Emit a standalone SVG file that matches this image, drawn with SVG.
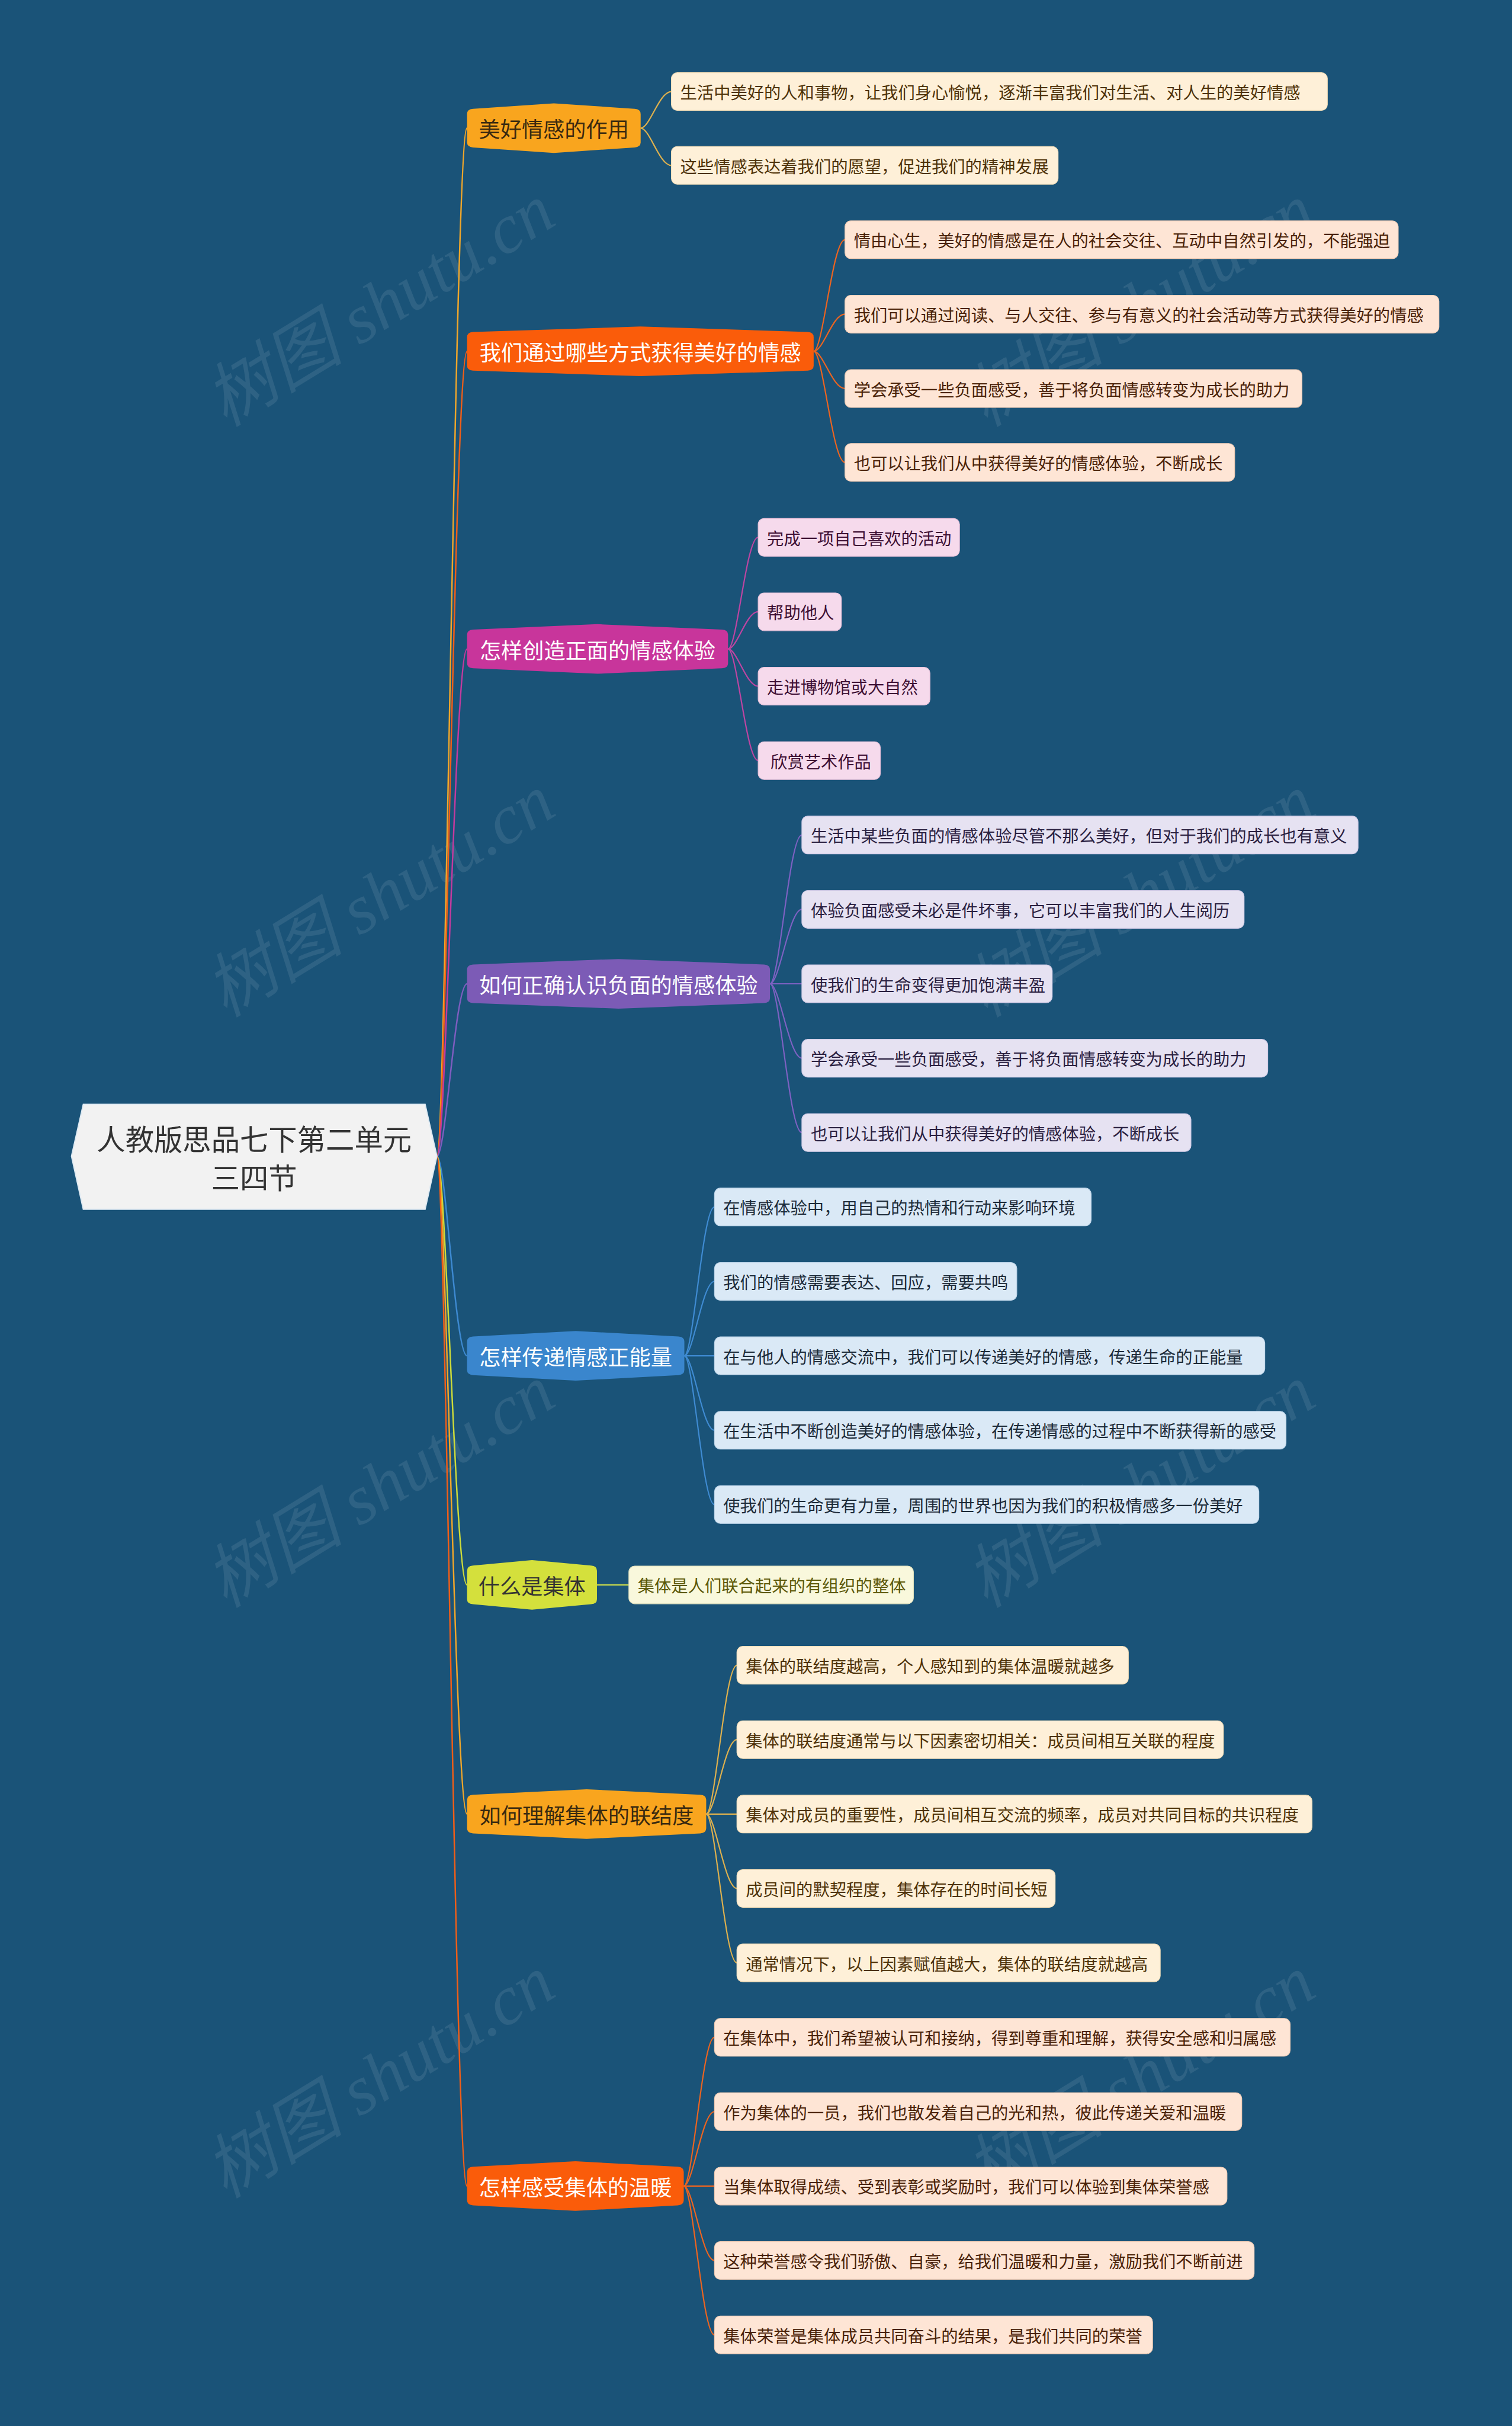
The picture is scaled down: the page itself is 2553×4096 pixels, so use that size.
<svg xmlns="http://www.w3.org/2000/svg" width="2553" height="4096" viewBox="0 0 2553 4096">
<style>
.wm{font-family:"Liberation Serif","Noto Sans CJK SC",serif;font-style:italic;font-size:118px;fill:#ffffff;fill-opacity:0.09}
.t1{font-family:"Noto Sans CJK SC","Noto Sans",sans-serif;font-size:36.3px;dominant-baseline:central;text-anchor:middle}
.t2{font-family:"Noto Sans CJK SC","Noto Sans",sans-serif;font-size:28.4px;dominant-baseline:central}
.rt{font-family:"Noto Sans CJK SC","Noto Sans",sans-serif;font-size:48.5px;dominant-baseline:central;text-anchor:middle;fill:#333333}
.lf{stroke-width:1.2}
.c0{fill:none;stroke-width:2.5}
.c1{fill:none;stroke-width:2.2}
</style>
<rect x="0" y="0" width="2553" height="4096" fill="#1A5378"/>
<g transform="scale(0.997)">
<g id="watermarks">
<text class="wm" transform="translate(643 517) rotate(-31.5)" text-anchor="middle" dominant-baseline="central">树图 shutu.cn</text>
<text class="wm" transform="translate(1931 517) rotate(-31.5)" text-anchor="middle" dominant-baseline="central">树图 shutu.cn</text>
<text class="wm" transform="translate(643 1517) rotate(-31.5)" text-anchor="middle" dominant-baseline="central">树图 shutu.cn</text>
<text class="wm" transform="translate(1931 1517) rotate(-31.5)" text-anchor="middle" dominant-baseline="central">树图 shutu.cn</text>
<text class="wm" transform="translate(643 2517) rotate(-31.5)" text-anchor="middle" dominant-baseline="central">树图 shutu.cn</text>
<text class="wm" transform="translate(1931 2517) rotate(-31.5)" text-anchor="middle" dominant-baseline="central">树图 shutu.cn</text>
<text class="wm" transform="translate(643 3517) rotate(-31.5)" text-anchor="middle" dominant-baseline="central">树图 shutu.cn</text>
<text class="wm" transform="translate(1931 3517) rotate(-31.5)" text-anchor="middle" dominant-baseline="central">树图 shutu.cn</text>
</g>
<g id="connectors">
<path class="c0" stroke="#F0A62A" d="M740 1958 C755.3 1958 770.6 217 791 217"/>
<path class="c0" stroke="#F05E18" d="M740 1958 C755.3 1958 770.6 595 791 595"/>
<path class="c0" stroke="#C23B9E" d="M740 1958 C755.3 1958 770.6 1099 791 1099"/>
<path class="c0" stroke="#7E5DBF" d="M740 1958 C755.3 1958 770.6 1666 791 1666"/>
<path class="c0" stroke="#3D89D0" d="M740 1958 C755.3 1958 770.6 2296 791 2296"/>
<path class="c0" stroke="#CCDA3A" d="M740 1958 C755.3 1958 770.6 2684 791 2684"/>
<path class="c0" stroke="#F0A62A" d="M740 1958 C755.3 1958 770.6 3072 791 3072"/>
<path class="c0" stroke="#F05E18" d="M740 1958 C755.3 1958 770.6 3702 791 3702"/>
<g stroke="#DDB04E">
<path class="c1" d="M1085 217 C1100.6 217 1116.2 155 1137 155"/>
<path class="c1" d="M1085 217 C1100.6 217 1116.2 280 1137 280"/>
</g>
<g stroke="#EC6420">
<path class="c1" d="M1378 595 C1393.9 595 1409.8 406 1431 406"/>
<path class="c1" d="M1378 595 C1393.9 595 1409.8 532 1431 532"/>
<path class="c1" d="M1378 595 C1393.9 595 1409.8 658 1431 658"/>
<path class="c1" d="M1378 595 C1393.9 595 1409.8 783 1431 783"/>
</g>
<g stroke="#BE45A2">
<path class="c1" d="M1233 1099 C1248.3 1099 1263.6 910 1284 910"/>
<path class="c1" d="M1233 1099 C1248.3 1099 1263.6 1036 1284 1036"/>
<path class="c1" d="M1233 1099 C1248.3 1099 1263.6 1162 1284 1162"/>
<path class="c1" d="M1233 1099 C1248.3 1099 1263.6 1288 1284 1288"/>
</g>
<g stroke="#7D61C2">
<path class="c1" d="M1304 1666 C1320.2 1666 1336.4 1414 1358 1414"/>
<path class="c1" d="M1304 1666 C1320.2 1666 1336.4 1540 1358 1540"/>
<path class="c1" d="M1304 1666 L1358 1666"/>
<path class="c1" d="M1304 1666 C1320.2 1666 1336.4 1792 1358 1792"/>
<path class="c1" d="M1304 1666 C1320.2 1666 1336.4 1918 1358 1918"/>
</g>
<g stroke="#3F8BD2">
<path class="c1" d="M1159 2296 C1174.3 2296 1189.6 2044 1210 2044"/>
<path class="c1" d="M1159 2296 C1174.3 2296 1189.6 2170 1210 2170"/>
<path class="c1" d="M1159 2296 L1210 2296"/>
<path class="c1" d="M1159 2296 C1174.3 2296 1189.6 2422 1210 2422"/>
<path class="c1" d="M1159 2296 C1174.3 2296 1189.6 2548 1210 2548"/>
</g>
<g stroke="#C9DA4C">
<path class="c1" d="M1011 2684 L1065 2684"/>
</g>
<g stroke="#DDB04E">
<path class="c1" d="M1196 3072 C1211.6 3072 1227.2 2820 1248 2820"/>
<path class="c1" d="M1196 3072 C1211.6 3072 1227.2 2946 1248 2946"/>
<path class="c1" d="M1196 3072 L1248 3072"/>
<path class="c1" d="M1196 3072 C1211.6 3072 1227.2 3198 1248 3198"/>
<path class="c1" d="M1196 3072 C1211.6 3072 1227.2 3324 1248 3324"/>
</g>
<g stroke="#EC6420">
<path class="c1" d="M1158 3702 C1173.6 3702 1189.2 3450 1210 3450"/>
<path class="c1" d="M1158 3702 C1173.6 3702 1189.2 3576 1210 3576"/>
<path class="c1" d="M1158 3702 L1210 3702"/>
<path class="c1" d="M1158 3702 C1173.6 3702 1189.2 3828 1210 3828"/>
<path class="c1" d="M1158 3702 C1173.6 3702 1189.2 3954 1210 3954"/>
</g>
</g>
<g id="root">
<polygon points="121,1958 141,1870 720,1870 740,1958 720,2048 141,2048" fill="#F2F2F2" stroke="#DDE9F2" stroke-width="2"/>
<text class="rt" x="430.5" y="1927">人教版思品七下第二单元</text>
<text class="rt" x="430.5" y="1992">三四节</text>
</g>
<g id="n1">
<path d="M791 193 Q791 185 801 184.3 L938 175 L1075 184.3 Q1085 185 1085 193 L1085 241 Q1085 249 1075 249.7 L938 259 L801 249.7 Q791 249 791 241 Z" fill="#F9A51E"/>
<text class="t1" x="938" y="217" fill="#3A2A10">美好情感的作用</text>
</g>
<g id="n1a"><rect class="lf" x="1137" y="123" width="1111" height="64" rx="10" fill="#FEF0D8" stroke="#F1DDB8"/><text class="t2" x="1152" y="155" fill="#4E3208">生活中美好的人和事物，让我们身心愉悦，逐渐丰富我们对生活、对人生的美好情感</text></g>
<g id="n1b"><rect class="lf" x="1137" y="248" width="655" height="64" rx="10" fill="#FEF0D8" stroke="#F1DDB8"/><text class="t2" x="1152" y="280" fill="#4E3208">这些情感表达着我们的愿望，促进我们的精神发展</text></g>
<g id="n2">
<path d="M791 571 Q791 563 801 562.3 L1084.5 553 L1368 562.3 Q1378 563 1378 571 L1378 619 Q1378 627 1368 627.7 L1084.5 637 L801 627.7 Q791 627 791 619 Z" fill="#FA5C0A"/>
<text class="t1" x="1084.5" y="595" fill="#FFFFFF">我们通过哪些方式获得美好的情感</text>
</g>
<g id="n2a"><rect class="lf" x="1431" y="374" width="937" height="64" rx="10" fill="#FEE5D5" stroke="#F2CDB6"/><text class="t2" x="1446" y="406" fill="#4A2208">情由心生，美好的情感是在人的社会交往、互动中自然引发的，不能强迫</text></g>
<g id="n2b"><rect class="lf" x="1431" y="500" width="1006" height="64" rx="10" fill="#FEE5D5" stroke="#F2CDB6"/><text class="t2" x="1446" y="532" fill="#4A2208">我们可以通过阅读、与人交往、参与有意义的社会活动等方式获得美好的情感</text></g>
<g id="n2c"><rect class="lf" x="1431" y="626" width="774" height="64" rx="10" fill="#FEE5D5" stroke="#F2CDB6"/><text class="t2" x="1446" y="658" fill="#4A2208">学会承受一些负面感受，善于将负面情感转变为成长的助力</text></g>
<g id="n2d"><rect class="lf" x="1431" y="751" width="660" height="64" rx="10" fill="#FEE5D5" stroke="#F2CDB6"/><text class="t2" x="1446" y="783" fill="#4A2208">也可以让我们从中获得美好的情感体验，不断成长</text></g>
<g id="n3">
<path d="M791 1075 Q791 1067 801 1066.3 L1012 1057 L1223 1066.3 Q1233 1067 1233 1075 L1233 1123 Q1233 1131 1223 1131.7 L1012 1141 L801 1131.7 Q791 1131 791 1123 Z" fill="#C8359B"/>
<text class="t1" x="1012" y="1099" fill="#FFFFFF">怎样创造正面的情感体验</text>
</g>
<g id="n3a"><rect class="lf" x="1284" y="878" width="341" height="64" rx="10" fill="#F6DAEC" stroke="#E8C2DA"/><text class="t2" x="1299" y="910" fill="#3E1034">完成一项自己喜欢的活动</text></g>
<g id="n3b"><rect class="lf" x="1284" y="1004" width="141" height="64" rx="10" fill="#F6DAEC" stroke="#E8C2DA"/><text class="t2" x="1299" y="1036" fill="#3E1034">帮助他人</text></g>
<g id="n3c"><rect class="lf" x="1284" y="1130" width="291" height="64" rx="10" fill="#F6DAEC" stroke="#E8C2DA"/><text class="t2" x="1299" y="1162" fill="#3E1034">走进博物馆或大自然</text></g>
<g id="n3d"><rect class="lf" x="1284" y="1256" width="207" height="64" rx="10" fill="#F6DAEC" stroke="#E8C2DA"/><text class="t2" x="1305" y="1288" fill="#3E1034">欣赏艺术作品</text></g>
<g id="n4">
<path d="M791 1642 Q791 1634 801 1633.3 L1047.5 1624 L1294 1633.3 Q1304 1634 1304 1642 L1304 1690 Q1304 1698 1294 1698.7 L1047.5 1708 L801 1698.7 Q791 1698 791 1690 Z" fill="#7C5BB6"/>
<text class="t1" x="1047.5" y="1666" fill="#FFFFFF">如何正确认识负面的情感体验</text>
</g>
<g id="n4a"><rect class="lf" x="1358" y="1382" width="942" height="64" rx="10" fill="#E6E2F2" stroke="#D0CAE6"/><text class="t2" x="1373" y="1414" fill="#2A2040">生活中某些负面的情感体验尽管不那么美好，但对于我们的成长也有意义</text></g>
<g id="n4b"><rect class="lf" x="1358" y="1508" width="749" height="64" rx="10" fill="#E6E2F2" stroke="#D0CAE6"/><text class="t2" x="1373" y="1540" fill="#2A2040">体验负面感受未必是件坏事，它可以丰富我们的人生阅历</text></g>
<g id="n4c"><rect class="lf" x="1358" y="1634" width="424" height="64" rx="10" fill="#E6E2F2" stroke="#D0CAE6"/><text class="t2" x="1373" y="1666" fill="#2A2040">使我们的生命变得更加饱满丰盈</text></g>
<g id="n4d"><rect class="lf" x="1358" y="1760" width="789" height="64" rx="10" fill="#E6E2F2" stroke="#D0CAE6"/><text class="t2" x="1373" y="1792" fill="#2A2040">学会承受一些负面感受，善于将负面情感转变为成长的助力</text></g>
<g id="n4e"><rect class="lf" x="1358" y="1886" width="659" height="64" rx="10" fill="#E6E2F2" stroke="#D0CAE6"/><text class="t2" x="1373" y="1918" fill="#2A2040">也可以让我们从中获得美好的情感体验，不断成长</text></g>
<g id="n5">
<path d="M791 2272 Q791 2264 801 2263.3 L975 2254 L1149 2263.3 Q1159 2264 1159 2272 L1159 2320 Q1159 2328 1149 2328.7 L975 2338 L801 2328.7 Q791 2328 791 2320 Z" fill="#3A86CD"/>
<text class="t1" x="975" y="2296" fill="#FFFFFF">怎样传递情感正能量</text>
</g>
<g id="n5a"><rect class="lf" x="1210" y="2012" width="638" height="64" rx="10" fill="#DAE9F6" stroke="#BFD6EA"/><text class="t2" x="1225" y="2044" fill="#1C2A38">在情感体验中，用自己的热情和行动来影响环境</text></g>
<g id="n5b"><rect class="lf" x="1210" y="2138" width="512" height="64" rx="10" fill="#DAE9F6" stroke="#BFD6EA"/><text class="t2" x="1225" y="2170" fill="#1C2A38">我们的情感需要表达、回应，需要共鸣</text></g>
<g id="n5c"><rect class="lf" x="1210" y="2264" width="932" height="64" rx="10" fill="#DAE9F6" stroke="#BFD6EA"/><text class="t2" x="1225" y="2296" fill="#1C2A38">在与他人的情感交流中，我们可以传递美好的情感，传递生命的正能量</text></g>
<g id="n5d"><rect class="lf" x="1210" y="2390" width="968" height="64" rx="10" fill="#DAE9F6" stroke="#BFD6EA"/><text class="t2" x="1225" y="2422" fill="#1C2A38">在生活中不断创造美好的情感体验，在传递情感的过程中不断获得新的感受</text></g>
<g id="n5e"><rect class="lf" x="1210" y="2516" width="922" height="64" rx="10" fill="#DAE9F6" stroke="#BFD6EA"/><text class="t2" x="1225" y="2548" fill="#1C2A38">使我们的生命更有力量，周围的世界也因为我们的积极情感多一份美好</text></g>
<g id="n6">
<path d="M791 2660 Q791 2652 801 2651.3 L901 2642 L1001 2651.3 Q1011 2652 1011 2660 L1011 2708 Q1011 2716 1001 2716.7 L901 2726 L801 2716.7 Q791 2716 791 2708 Z" fill="#D4E03C"/>
<text class="t1" x="901" y="2684" fill="#333333">什么是集体</text>
</g>
<g id="n6a"><rect class="lf" x="1065" y="2652" width="482" height="64" rx="10" fill="#F9F8DC" stroke="#E2E2BE"/><text class="t2" x="1080" y="2684" fill="#5C5808">集体是人们联合起来的有组织的整体</text></g>
<g id="n7">
<path d="M791 3048 Q791 3040 801 3039.3 L993.5 3030 L1186 3039.3 Q1196 3040 1196 3048 L1196 3096 Q1196 3104 1186 3104.7 L993.5 3114 L801 3104.7 Q791 3104 791 3096 Z" fill="#F9A51E"/>
<text class="t1" x="993.5" y="3072" fill="#3A2A10">如何理解集体的联结度</text>
</g>
<g id="n7a"><rect class="lf" x="1248" y="2788" width="663" height="64" rx="10" fill="#FEF0D8" stroke="#F1DDB8"/><text class="t2" x="1263" y="2820" fill="#4E3208">集体的联结度越高，个人感知到的集体温暖就越多</text></g>
<g id="n7b"><rect class="lf" x="1248" y="2914" width="824" height="64" rx="10" fill="#FEF0D8" stroke="#F1DDB8"/><text class="t2" x="1263" y="2946" fill="#4E3208">集体的联结度通常与以下因素密切相关：成员间相互关联的程度</text></g>
<g id="n7c"><rect class="lf" x="1248" y="3040" width="974" height="64" rx="10" fill="#FEF0D8" stroke="#F1DDB8"/><text class="t2" x="1263" y="3072" fill="#4E3208">集体对成员的重要性，成员间相互交流的频率，成员对共同目标的共识程度</text></g>
<g id="n7d"><rect class="lf" x="1248" y="3166" width="539" height="64" rx="10" fill="#FEF0D8" stroke="#F1DDB8"/><text class="t2" x="1263" y="3198" fill="#4E3208">成员间的默契程度，集体存在的时间长短</text></g>
<g id="n7e"><rect class="lf" x="1248" y="3292" width="717" height="64" rx="10" fill="#FEF0D8" stroke="#F1DDB8"/><text class="t2" x="1263" y="3324" fill="#4E3208">通常情况下，以上因素赋值越大，集体的联结度就越高</text></g>
<g id="n8">
<path d="M791 3678 Q791 3670 801 3669.3 L974.5 3660 L1148 3669.3 Q1158 3670 1158 3678 L1158 3726 Q1158 3734 1148 3734.7 L974.5 3744 L801 3734.7 Q791 3734 791 3726 Z" fill="#FA5C0A"/>
<text class="t1" x="974.5" y="3702" fill="#FFFFFF">怎样感受集体的温暖</text>
</g>
<g id="n8a"><rect class="lf" x="1210" y="3418" width="975" height="64" rx="10" fill="#FEE5D5" stroke="#F2CDB6"/><text class="t2" x="1225" y="3450" fill="#4A2208">在集体中，我们希望被认可和接纳，得到尊重和理解，获得安全感和归属感</text></g>
<g id="n8b"><rect class="lf" x="1210" y="3544" width="893" height="64" rx="10" fill="#FEE5D5" stroke="#F2CDB6"/><text class="t2" x="1225" y="3576" fill="#4A2208">作为集体的一员，我们也散发着自己的光和热，彼此传递关爱和温暖</text></g>
<g id="n8c"><rect class="lf" x="1210" y="3670" width="868" height="64" rx="10" fill="#FEE5D5" stroke="#F2CDB6"/><text class="t2" x="1225" y="3702" fill="#4A2208">当集体取得成绩、受到表彰或奖励时，我们可以体验到集体荣誉感</text></g>
<g id="n8d"><rect class="lf" x="1210" y="3796" width="914" height="64" rx="10" fill="#FEE5D5" stroke="#F2CDB6"/><text class="t2" x="1225" y="3828" fill="#4A2208">这种荣誉感令我们骄傲、自豪，给我们温暖和力量，激励我们不断前进</text></g>
<g id="n8e"><rect class="lf" x="1210" y="3922" width="742" height="64" rx="10" fill="#FEE5D5" stroke="#F2CDB6"/><text class="t2" x="1225" y="3954" fill="#4A2208">集体荣誉是集体成员共同奋斗的结果，是我们共同的荣誉</text></g>
</g>
</svg>
